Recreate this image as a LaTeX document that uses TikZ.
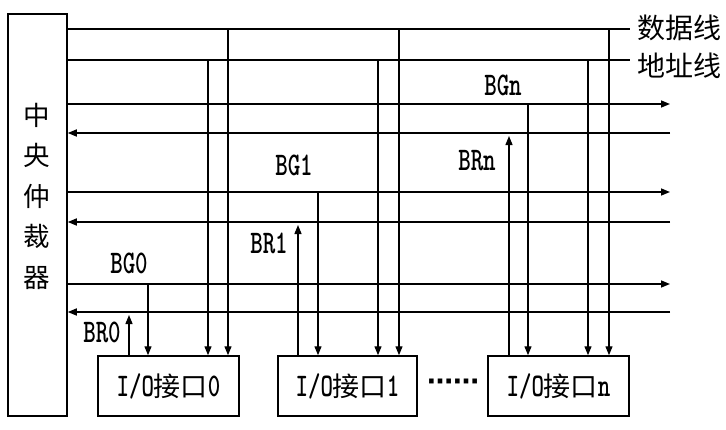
\documentclass[tikz,border=0pt]{standalone}
\usepackage{fontspec}
\usetikzlibrary{arrows.meta}
\newfontfamily\cjk{Noto Sans CJK SC}
\newfontfamily\djv{DejaVu Sans}
\newcommand\latlbl[1]{{\ttfamily\bfseries\fontsize{33}{33}\selectfont\scalebox{0.72}[1]{#1}}}
\tikzset{
  box/.style={draw, line width=1.5pt, inner sep=0pt},
  bus/.style={line width=1.5pt},
  vline/.style={line width=1.3pt},
  tip/.style={-{Triangle[length=9pt,width=7pt]}},
  lbl/.style={inner sep=0pt},
  cn/.style={font=\cjk\fontsize{27}{27}\selectfont, inner sep=0pt},
}
\begin{document}
\begin{tikzpicture}[x=1pt,y=-1pt]
\useasboundingbox (0,0) rectangle (726,429);
% arbiter
\node[box, minimum width=59pt, minimum height=402pt] (arb) at (37.5,215) {};
\node[font=\cjk\fontsize{26.5}{40.5}\selectfont, align=center, inner sep=0pt] (arbtxt) at (36.5,196) {中\\央\\仲\\裁\\器};
% interface boxes
\node[box, cn, minimum width=141pt, minimum height=60pt] (box0) at (168.5,386) {\latlbl{I/O}接口\latlbl{0}};
\node[box, cn, minimum width=139pt, minimum height=60pt] (box1) at (347.5,386) {\latlbl{I/O}接口\latlbl{1}};
\node[box, cn, minimum width=141pt, minimum height=60pt] (boxn) at (558.5,386) {\latlbl{I/O}接口\latlbl{n}};
\node[font=\djv\bfseries\fontsize{26}{26}\selectfont, inner sep=0pt] (dots) at (453,385) {⋯⋯};
% right labels
\node[cn, font=\cjk\fontsize{28}{28}\selectfont] (dlbl) at (679,28) {数据线};
\node[cn, font=\cjk\fontsize{28}{28}\selectfont] (albl) at (679,66) {地址线};
% bus end points
\coordinate (dE) at (630,29);
\coordinate (aE) at (630,60);
\coordinate (gnE) at (670,104);
\coordinate (rnE) at (670,133);
\coordinate (g1E) at (670,192);
\coordinate (r1E) at (670,222);
\coordinate (g0E) at (670,284);
\coordinate (r0E) at (670,312);
% horizontal buses
\draw[bus] (arb.east |- dE) -- (dE);
\draw[bus] (arb.east |- aE) -- (aE);
\draw[bus,tip] (arb.east |- gnE) -- (gnE);
\draw[bus,tip] (rnE) -- (arb.east |- rnE);
\draw[bus,tip] (arb.east |- g1E) -- (g1E);
\draw[bus,tip] (r1E) -- (arb.east |- r1E);
\draw[bus,tip] (arb.east |- g0E) -- (g0E);
\draw[bus,tip] (r0E) -- (arb.east |- r0E);
% taps on the buses
\coordinate (r0x) at (129,315);
\coordinate (g0x) at (148,284);
\coordinate (a0x) at (208,60);
\coordinate (d0x) at (228,29);
\coordinate (r1x) at (298,225);
\coordinate (g1x) at (318,192);
\coordinate (a1x) at (378,60);
\coordinate (d1x) at (399,29);
\coordinate (rnx) at (509,136);
\coordinate (gnx) at (528,104);
\coordinate (anx) at (588,60);
\coordinate (dnx) at (609,29);
% verticals
\draw[vline,tip] (r0x |- box0.north) -- (r0x);
\draw[vline,tip] (g0x) -- (g0x |- box0.north);
\draw[vline,tip] (a0x) -- (a0x |- box0.north);
\draw[vline,tip] (d0x) -- (d0x |- box0.north);
\draw[vline,tip] (r1x |- box1.north) -- (r1x);
\draw[vline,tip] (g1x) -- (g1x |- box1.north);
\draw[vline,tip] (a1x) -- (a1x |- box1.north);
\draw[vline,tip] (d1x) -- (d1x |- box1.north);
\draw[vline,tip] (rnx |- boxn.north) -- (rnx);
\draw[vline,tip] (gnx) -- (gnx |- boxn.north);
\draw[vline,tip] (anx) -- (anx |- boxn.north);
\draw[vline,tip] (dnx) -- (dnx |- boxn.north);
% signal labels
\node[lbl] (bg0) at (129,263) {\latlbl{BG0}};
\node[lbl] (br0) at (102,332) {\latlbl{BR0}};
\node[lbl] (bg1) at (294,165) {\latlbl{BG1}};
\node[lbl] (br1) at (269,243) {\latlbl{BR1}};
\node[lbl] (bgn) at (503,85) {\latlbl{BGn}};
\node[lbl] (brn) at (477,161) {\latlbl{BRn}};
\end{tikzpicture}
\end{document}
